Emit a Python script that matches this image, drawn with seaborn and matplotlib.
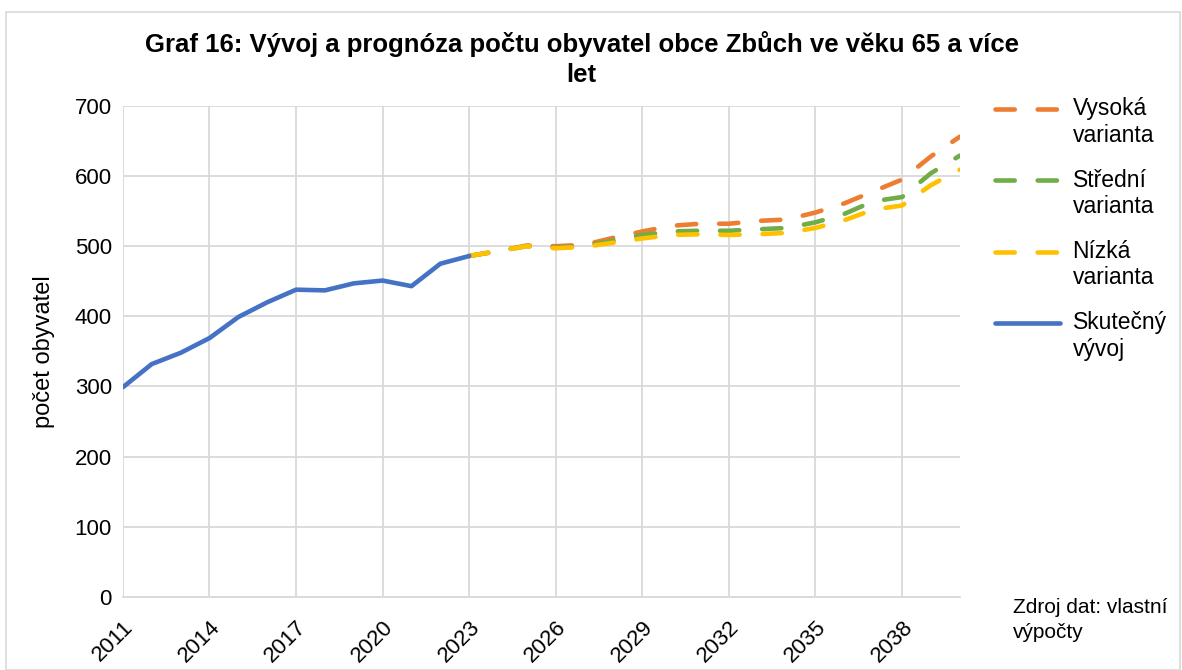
import numpy as np
import pandas as pd
import matplotlib
matplotlib.use("Agg")
import matplotlib.pyplot as plt
import seaborn as sns

# skutecny vyvoj 2011-2023
years_actual = list(range(2011, 2024))
actual = [299, 332, 348, 369, 399, 420, 438, 437, 447, 451, 443, 475, 486]

# prognoza 2023-2040
years_fc = list(range(2023, 2041))
high = [486, 493, 501, 500, 502, 512, 521, 529, 532, 532, 536, 538, 548, 561, 578, 595, 628, 656]
mid = [486, 493, 500, 498, 500, 508, 516, 521, 522, 522, 524, 526, 534, 546, 564, 570, 604, 629]
low = [486, 493, 500, 497, 499, 505, 511, 516, 517, 516, 517, 519, 526, 537, 552, 558, 587, 609]

tick_years = list(range(2011, 2039, 3))

sns.set_theme(style="white")
plt.rcParams["font.family"] = ["Liberation Sans", "DejaVu Sans"]
for k in ["text.color", "axes.labelcolor", "xtick.color", "ytick.color"]:
    plt.rcParams[k] = "black"

fig = plt.figure(figsize=(11.82, 6.70), dpi=100)
ax = fig.add_axes([0.104, 0.109, 0.708, 0.733])

dash = (4.2, 5.0)
series = [
    ("Vysoká\nvarianta", years_fc, high, "#ED7D31", dash),
    ("Střední\nvarianta", years_fc, mid, "#70AD47", dash),
    ("Nízká\nvarianta", years_fc, low, "#FFC000", dash),
    ("Skutečný\nvývoj", years_actual, actual, "#4472C4", None),
]
for name, xs, ys, col, d in series:
    df = pd.DataFrame({"rok": xs, "pocet": ys})
    sns.lineplot(data=df, x="rok", y="pocet", ax=ax, color=col,
                 linewidth=3.3, label=name, solid_capstyle="round")
    if d:
        ax.lines[-1].set_dashes(d)
        ax.lines[-1].set_dash_capstyle("round")

ax.set_xlim(2011, 2040)
ax.set_ylim(0, 700)
ax.set_yticks(range(0, 701, 100))
ax.set_xticks(tick_years)
ax.set_xticklabels([str(y) for y in tick_years], rotation=45, ha="right",
                   rotation_mode="anchor", fontsize=16)
ax.tick_params(axis="y", labelsize=16, length=0, pad=8)
ax.tick_params(axis="x", length=0, pad=14)
ax.grid(True, color="#D9D9D9", linewidth=1.3)
for s in ["top", "right", "left"]:
    ax.spines[s].set_visible(False)
ax.spines["bottom"].set_color("#D9D9D9")
ax.spines["bottom"].set_linewidth(1.3)
ax.set_xlabel("")
ax.set_ylabel("počet obyvatel", fontsize=17, labelpad=14)

fig.suptitle("Graf 16: Vývoj a prognóza počtu obyvatel obce Zbůch ve věku 65 a více\nlet",
             x=0.492, y=0.953, fontsize=18.5, fontweight="bold", linespacing=1.3)

leg = ax.legend(loc="upper left", bbox_to_anchor=(0.8415, 0.855),
                bbox_transform=fig.transFigure, frameon=False,
                fontsize=16.5, handlelength=2.85, labelspacing=0.95,
                handletextpad=0.55, borderpad=0, borderaxespad=0)
# handle on the first line of a two-line label
for ln in leg.get_lines():
    y = ln.get_ydata()
    ln.set_ydata([v + 10 for v in y])
    ln.set_linewidth(3.3)

fig.text(0.857, 0.0746, "Zdroj dat: vlastní\nvýpočty", fontsize=15, ha="left",
         va="center", linespacing=1.35)

border = plt.Rectangle((0.005, 0.0), 0.993, 0.982, transform=fig.transFigure,
                       fill=False, edgecolor="#D9D9D9", linewidth=1.2)
fig.patches.append(border)

fig.savefig("out.png", dpi=100)
